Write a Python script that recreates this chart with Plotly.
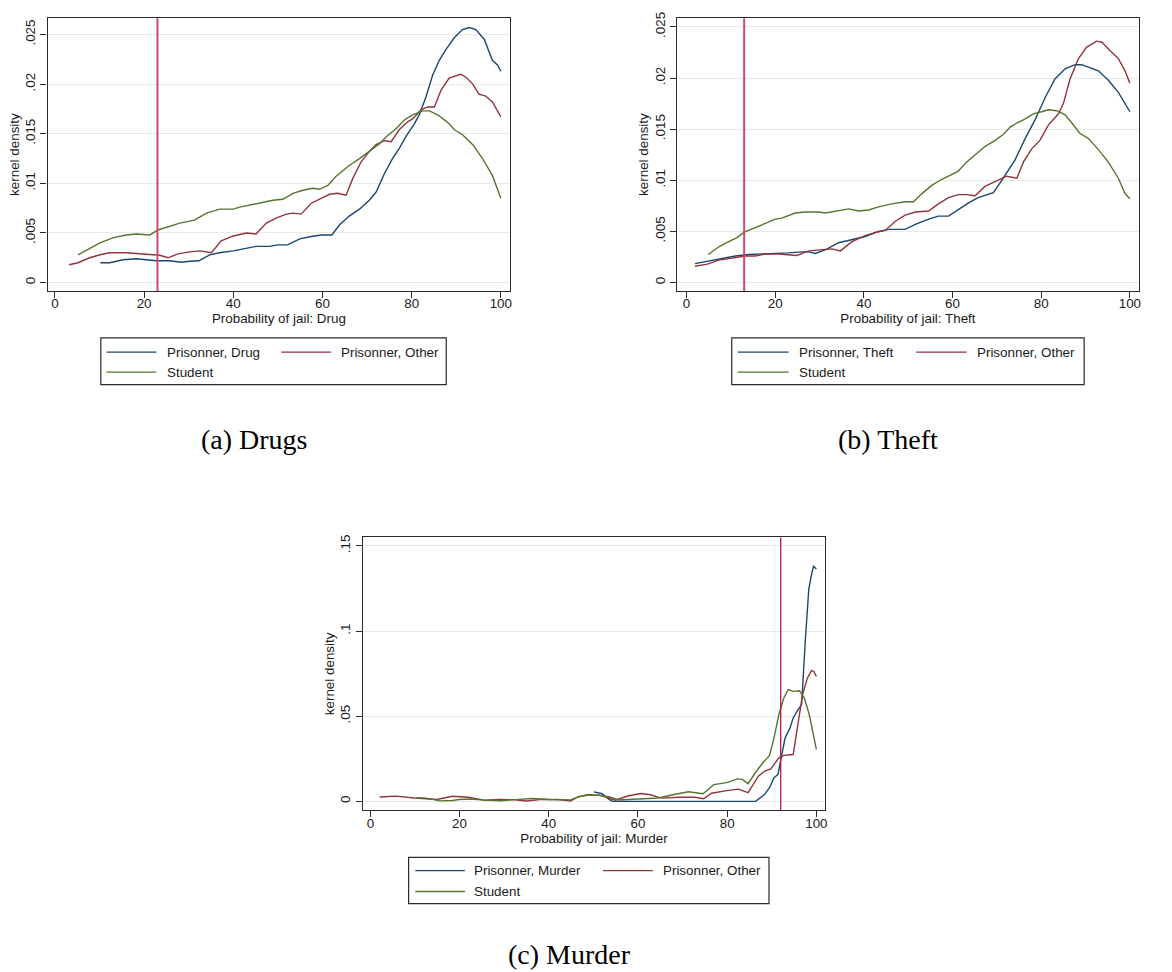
import plotly.graph_objects as go

# ---------------- data ----------------
# values in units of 0.001 are scaled when plotted
x_ticks = [0, 20, 40, 60, 80, 100]

# Panel (a) Drugs
a_drug_x = [10.2, 12.3, 15.3, 18.3, 20.5, 22.8, 25.7, 28.4, 30.2, 32.3, 34.7, 36.9, 40, 42.9, 45.1, 48.1, 50,
            52.2, 54.9, 57.5, 59.7, 62.1, 63.8, 66, 68.3, 70.5, 72, 73.9, 75.7, 77.2, 78.7, 80.6, 81.7, 83.2,
            84.7, 86.2, 87.7, 89.6, 91.4, 92.9, 94.4, 96.3, 98.1, 99.3, 100]
a_drug_y = [2.0, 2.0, 2.3, 2.4, 2.3, 2.2, 2.2, 2.05, 2.15, 2.2, 2.8, 3.0, 3.2, 3.5, 3.65, 3.65, 3.8, 3.8, 4.4,
            4.65, 4.8, 4.8, 5.8, 6.7, 7.4, 8.3, 9.1, 11.0, 12.5, 13.5, 14.7, 16.0, 16.9, 18.7, 20.9, 22.4, 23.5,
            24.7, 25.5, 25.7, 25.5, 24.5, 22.4, 21.9, 21.3]
a_other_x = [3.2, 5.2, 7.8, 10.1, 12.3, 16, 19, 21.3, 23.5, 25.4, 27.6, 30.2, 32.5, 35.1, 37.3, 40, 42.9, 45.1,
             47.4, 49.6, 51.9, 53.4, 55.2, 57.5, 59.7, 61.6, 63.4, 65.3, 66.8, 68.7, 70.5, 72, 73.9, 75.4, 77.2,
             79.1, 80.2, 82.1, 83.6, 85.1, 86.6, 88.4, 91, 92.2, 93.7, 95.1, 96.6, 98.1, 100]
a_other_y = [1.8, 2.0, 2.5, 2.8, 3.0, 3.0, 2.9, 2.8, 2.75, 2.5, 2.9, 3.1, 3.2, 3.0, 4.2, 4.7, 5.0, 4.9, 6.0, 6.5,
             6.9, 7.0, 6.9, 8.0, 8.5, 8.9, 9.0, 8.8, 10.5, 12.2, 13.2, 13.9, 14.3, 14.2, 15.4, 16.2, 16.5, 17.4,
             17.7, 17.7, 19.4, 20.6, 21.0, 20.7, 20.0, 19.0, 18.8, 18.2, 16.7]
a_student_x = [5.2, 10.1, 13, 16, 18.3, 21.3, 23.1, 28, 31.3, 34, 37, 40, 41.4, 44.4, 47.4, 48.9, 51.1, 53.4,
               55.6, 57.8, 59.3, 61.2, 63, 66, 68.3, 70.5, 72.8, 74.3, 76.5, 78.4, 80.2, 82.5, 84, 86.2, 88.4,
               89.6, 91.4, 93.7, 95.9, 98.1, 99.3, 100]
a_student_y = [2.8, 4.0, 4.5, 4.8, 4.9, 4.8, 5.3, 6.0, 6.3, 7.0, 7.4, 7.4, 7.6, 7.9, 8.2, 8.3, 8.4, 9.0, 9.3,
               9.5, 9.4, 9.8, 10.7, 11.8, 12.5, 13.2, 14.0, 14.7, 15.5, 16.4, 16.9, 17.3, 17.3, 16.8, 16.0,
               15.4, 14.9, 13.9, 12.5, 10.8, 9.2, 8.5]

# Panel (b) Theft
b_theft_x = [1.9, 5, 8, 11, 14, 17, 20, 23, 26, 27.6, 29, 31.3, 34.3, 37.3, 40.3, 43.3, 45.6, 49.3, 51.6, 54.6,
             56.8, 59.1, 61.3, 63.6, 65.8, 68.1, 69.2, 71.1, 74.1, 76.4, 78.6, 80.9, 83.1, 85.4, 87.6, 89.1, 91,
             92.9, 95.1, 97.4, 100]
b_theft_y = [1.85, 2.1, 2.4, 2.6, 2.75, 2.8, 2.8, 2.9, 3.0, 3.0, 2.85, 3.2, 3.9, 4.2, 4.5, 5.0, 5.2, 5.2, 5.7,
             6.2, 6.5, 6.5, 7.1, 7.8, 8.3, 8.6, 8.8, 10.0, 12.0, 14.1, 15.9, 18.1, 19.9, 20.9, 21.3, 21.3, 21.0,
             20.7, 19.8, 18.6, 16.7]
b_other_x = [1.9, 4.7, 7.3, 10.3, 13.3, 15.5, 17.8, 20.8, 23, 24.9, 27.6, 29.8, 32.8, 34.7, 37.3, 40.3, 42.6,
             44.8, 47.1, 49.3, 51.6, 54.6, 56.8, 59.1, 61.3, 63.2, 65.1, 67.3, 69.6, 72.2, 74.5, 76, 77.9, 79.7,
             81.6, 83.9, 85, 86.5, 88.4, 90.2, 92.5, 93.7, 95.5, 97.4, 98.9, 100]
b_other_y = [1.6, 1.8, 2.2, 2.4, 2.6, 2.6, 2.8, 2.8, 2.75, 2.65, 3.1, 3.2, 3.3, 3.1, 4.0, 4.6, 4.9, 5.1, 6.0,
             6.6, 6.9, 7.0, 7.7, 8.3, 8.6, 8.6, 8.5, 9.4, 9.9, 10.4, 10.2, 11.8, 13.1, 13.9, 15.4, 16.5, 17.5,
             19.9, 21.9, 23.0, 23.6, 23.5, 22.7, 21.9, 20.7, 19.5]
b_student_x = [4.9, 7.3, 9.5, 11.4, 12.9, 15.5, 17.8, 20, 21.5, 24.5, 26.8, 29.8, 31.3, 33.6, 36.6, 38.8, 41.1,
               43.3, 46.3, 49.3, 51.2, 53.1, 55.3, 57.6, 59.8, 61.3, 63.2, 65.1, 67.3, 69.6, 71.5, 73, 74.5,
               76.4, 78.2, 80.1, 81.6, 83.5, 85.4, 86.9, 88.7, 90.6, 92.9, 95.1, 97.4, 98.9, 100]
b_student_y = [2.75, 3.5, 4.0, 4.4, 4.9, 5.4, 5.8, 6.2, 6.3, 6.8, 6.9, 6.9, 6.8, 7.0, 7.2, 7.0, 7.1, 7.4, 7.7,
               7.9, 7.9, 8.7, 9.5, 10.1, 10.6, 10.9, 11.8, 12.5, 13.3, 13.9, 14.5, 15.2, 15.6, 16.0, 16.5, 16.7,
               16.9, 16.8, 16.4, 15.6, 14.6, 14.1, 13.0, 11.8, 10.2, 8.7, 8.2]

# Panel (c) Murder
c_murder_x = [50.1, 52, 53.5, 54.3, 60, 70, 80, 86.4, 88.4, 89.5, 90.5, 91.4, 92.1, 93, 94.1, 94.8, 95.9, 96.7,
              97.5, 98.3, 99.0, 99.4, 100]
c_murder_y = [5.6, 4.5, 1.2, 0, 0, 0, 0, 0, 4.1, 8.0, 13.9, 15.8, 25.6, 37.3, 43.2, 49.0, 53.9, 57.0, 93.6,
              124.7, 134.5, 138.0, 136.4]
c_other_x = [2.1, 5.7, 9.9, 14.9, 18.4, 22, 25.5, 29, 32, 35.0, 38, 42.0, 44.9, 46.5, 48.7, 51.5, 53, 54.9,
             57.9, 60.7, 62.8, 65.3, 69.2, 72.8, 74.7, 76.5, 79.9, 82.5, 84.7, 87, 88.4, 89.8, 91.6, 92.7, 94.8,
             95.9, 96.9, 98, 98.9, 99.4, 100]
c_other_y = [2.6, 3.1, 2.0, 1.1, 3.0, 2.4, 0.7, 1.1, 1.0, 0.2, 1.0, 1.1, 0.2, 2.6, 3.9, 3.6, 2.4, 0.7, 3.3, 4.6,
             3.9, 1.9, 2.4, 2.4, 1.5, 4.8, 6.3, 7.2, 5.1, 14.8, 17.8, 19.1, 25.6, 27.0, 27.5, 47.0, 62.7, 72.5,
             76.8, 76.4, 73.4]
c_student_x = [10.3, 12.5, 15.6, 18.4, 19.9, 22.5, 25.5, 29, 32.6, 36.2, 40.4, 44.9, 46.5, 48.5, 51.3, 53.5,
               55.7, 59.5, 64.6, 67.8, 71.3, 74.6, 77, 79.9, 82.3, 83.4, 84.7, 86.3, 88, 89.5, 90.5, 91.6, 92.7,
               93.7, 94.8, 96.2, 97.3, 98.4, 99.2, 100]
c_student_y = [2.2, 1.9, 0.3, 0.5, 1.1, 1.4, 0.7, 0.4, 1.0, 1.7, 1.1, 0.9, 2.5, 3.6, 3.5, 2.7, 0.8, 1.4, 2.0,
               3.9, 5.6, 4.5, 9.8, 11.0, 13.2, 12.9, 10.4, 16.8, 22.7, 27.0, 37.3, 51.0, 60.7, 65.6, 64.6, 65.0,
               60.7, 51.0, 41.2, 30.5]

# reference (actual probability) lines
cutoffs = [23, 13, 92]

ab_yticks = [0, 0.005, 0.01, 0.015, 0.02, 0.025]
ab_yticktext = ["0", ".005", ".01", ".015", ".02", ".025"]
c_yticks = [0, 0.05, 0.1, 0.15]
c_yticktext = ["0", ".05", ".1", ".15"]

x_titles = ["Probability of jail: Drug", "Probability of jail: Theft", "Probability of jail: Murder"]
captions = ["(a) Drugs", "(b) Theft", "(c) Murder"]
legend_labels = [
    ["Prisonner, Drug", "Prisonner, Other", "Student"],
    ["Prisonner, Theft", "Prisonner, Other", "Student"],
    ["Prisonner, Murder", "Prisonner, Other", "Student"],
]

# ---------------- styling / layout ----------------
W, H = 1172, 972
def px(x): return x / W
def py(y): return 1 - y / H

NAVY, MAROON, GREEN = "#1a476f", "#90353b", "#55752f"
FRAME = "#2a2a2a"
GRID = "#e9e9e9"
TXT = "#1a1a1a"
FONT = "Liberation Sans"
FS = 13.4

panels = [
    dict(series=[(a_drug_x, a_drug_y), (a_other_x, a_other_y), (a_student_x, a_student_y)],
         xdom=(47.7, 511.0), ydom=(12.3, 286.7), xr=[-1.63, 102.08], yr=[-0.000841, 0.026643],
         yt=(ab_yticks, ab_yticktext), vcol="#d2486b", vw=2.0,
         cap=(255.3, 454), leg=dict(box=(101, 334, 447, 381), c1=(106.7, 156.7, 165), c2=(281.7, 331.7, 340),
                                    r1=348.3, r2=368.3)),
    dict(series=[(b_theft_x, b_theft_y), (b_other_x, b_other_y), (b_student_x, b_student_y)],
         xdom=(678.3, 1140.7), ydom=(12.3, 286.7), xr=[-2.12, 102.0], yr=[-0.000816, 0.025845],
         yt=(ab_yticks, ab_yticktext), vcol="#d2486b", vw=2.0,
         cap=(889.2, 454), leg=dict(box=(733, 334, 1086, 381), c1=(739, 790, 798.3), c2=(917.7, 968.3, 976.7),
                                    r1=348.3, r2=368.3)),
    dict(series=[(c_murder_x, c_murder_y), (c_other_x, c_other_y), (c_student_x, c_student_y)],
         xdom=(363.3, 826.7), ydom=(534.7, 809.3), xr=[-1.72, 102.0], yr=[-0.00525, 0.15502],
         yt=(c_yticks, c_yticktext), vcol="#b8183f", vw=1.3,
         cap=(570, 972), leg=dict(box=(409.3, 856.7, 770.3, 903.3), c1=(416, 465.7, 473.3),
                                  c2=(604, 654, 662.3), r1=870, r2=891)),
]
colors = [NAVY, MAROON, GREEN]

fig = go.Figure()
shapes, annotations = [], []
layout = {}

for i, p in enumerate(panels):
    sfx = "" if i == 0 else str(i + 1)
    xa, ya = "x" + sfx, "y" + sfx
    for (sx, sy), col, name in zip(p["series"], colors, legend_labels[i]):
        fig.add_trace(go.Scatter(x=sx, y=[v / 1000 for v in sy], mode="lines", name=name,
                                 line=dict(color=col, width=1.4), xaxis=xa, yaxis=ya,
                                 showlegend=False))
    layout["xaxis" + sfx] = dict(
        domain=[px(p["xdom"][0]), px(p["xdom"][1])], range=p["xr"], anchor=ya,
        showline=True, mirror=True, linecolor=FRAME, linewidth=1.3,
        ticks="outside", ticklen=6, tickwidth=1.2, tickcolor=FRAME,
        tickvals=x_ticks, showgrid=False, zeroline=False, ticklabelstandoff=-6,
        tickfont=dict(family=FONT, size=FS, color=TXT),
        title=dict(text=x_titles[i], font=dict(family=FONT, size=FS, color=TXT), standoff=2))
    layout["yaxis" + sfx] = dict(
        domain=[py(p["ydom"][1]), py(p["ydom"][0])], range=p["yr"], anchor=xa,
        showline=True, mirror=True, linecolor=FRAME, linewidth=1.3,
        ticks="outside", ticklen=6, tickwidth=1.2, tickcolor=FRAME,
        tickvals=p["yt"][0], ticktext=p["yt"][1], tickangle=-90,
        showgrid=True, gridcolor=GRID, gridwidth=1, zeroline=False,
        tickfont=dict(family=FONT, size=FS, color=TXT),
        title=dict(text="kernel density", font=dict(family=FONT, size=FS, color=TXT), standoff=0))
    # vertical reference line
    shapes.append(dict(type="line", xref=xa, yref=ya + " domain", x0=cutoffs[i], x1=cutoffs[i], y0=0, y1=1,
                       line=dict(color=p["vcol"], width=p["vw"]), layer="above"))
    # caption
    annotations.append(dict(text=captions[i], x=px(p["cap"][0]), y=py(p["cap"][1]), xref="paper", yref="paper",
                            xanchor="center", yanchor="bottom", showarrow=False,
                            font=dict(family="Liberation Serif", size=28, color="#000")))
    # legend box
    lg = p["leg"]
    bx0, by0, bx1, by1 = lg["box"]
    shapes.append(dict(type="rect", xref="paper", yref="paper", x0=px(bx0), x1=px(bx1), y0=py(by1), y1=py(by0),
                       line=dict(color=FRAME, width=1.2), fillcolor="white", layer="above"))
    entries = [(lg["c1"], lg["r1"]), (lg["c2"], lg["r1"]), (lg["c1"], lg["r2"])]
    for (col_spec, row), col, name in zip(entries, colors, legend_labels[i]):
        l0, l1, tx = col_spec
        shapes.append(dict(type="line", xref="paper", yref="paper", x0=px(l0), x1=px(l1), y0=py(row),
                           y1=py(row), line=dict(color=col, width=1.3), layer="above"))
        annotations.append(dict(text=name, x=px(tx), y=py(row), xref="paper", yref="paper",
                                xanchor="left", yanchor="middle", showarrow=False,
                                font=dict(family=FONT, size=FS, color=TXT)))

fig.update_layout(
    width=W, height=H, margin=dict(l=0, r=0, t=0, b=0),
    paper_bgcolor="white", plot_bgcolor="white",
    shapes=shapes, annotations=annotations, showlegend=False,
    **layout)

fig.write_html("out.html")
